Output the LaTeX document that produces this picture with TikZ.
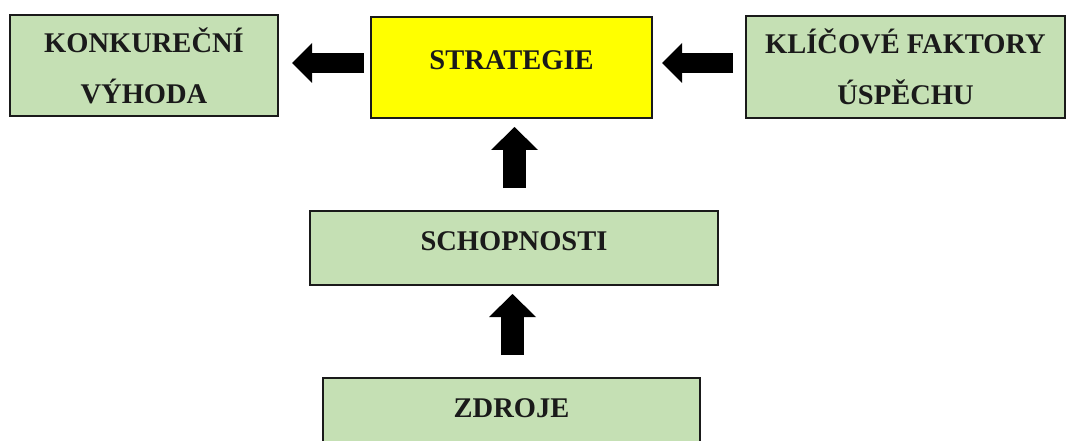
\documentclass[tikz,border=0pt]{standalone}
\usepackage{fontspec}
\setmainfont{Liberation Serif}
\usetikzlibrary{arrows.meta}
\definecolor{boxgreen}{HTML}{C5E0B4}
\definecolor{boxyellow}{HTML}{FFFF00}
\definecolor{edge}{HTML}{1A1A1A}
\begin{document}
\begin{tikzpicture}[x=1pt,y=-1pt,
  box/.style={draw=edge, line width=2pt, inner sep=0pt, font=\fontsize{28.5}{51}\selectfont\bfseries, text=edge, align=center},
  onerow/.style={text height=9pt, text depth=5pt},
  hblk/.style={draw=black, line width=20pt, -{Triangle[width=40pt, length=20pt, line width=0pt]}},
  vblk/.style={draw=black, line width=23pt, -{Triangle[width=47pt, length=23pt, line width=0pt]}},
]
\useasboundingbox (0,0) rectangle (1068,441);
\node[box, fill=boxgreen, minimum width=268pt, minimum height=101pt] (konk) at (144,65.5) {KONKUREČNÍ\\VÝHODA};
\node[box, onerow, fill=boxyellow, minimum width=281pt, minimum height=101pt] (strat) at (511.5,67.5) {STRATEGIE};
\node[box, fill=boxgreen, minimum width=319pt, minimum height=102pt] (kfu) at (905.5,67) {KLÍČOVÉ FAKTORY\\ÚSPĚCHU};
\node[box, onerow, fill=boxgreen, minimum width=408pt, minimum height=74pt] (schop) at (514,248) {SCHOPNOSTI};
\node[box, onerow, fill=boxgreen, minimum width=377pt, minimum height=74pt] (zdroje) at (511.5,415) {ZDROJE};
\draw[hblk] ([xshift=-6pt,yshift=4.5pt]strat.west) -- ([xshift=13pt,yshift=4.5pt]strat.west -| konk.east);
\draw[hblk] ([xshift=-12pt,yshift=4pt]kfu.west) -- ([xshift=9pt,yshift=4pt]kfu.west -| strat.east);
\draw[vblk] ([xshift=0.5pt,yshift=22pt]schop.north) -- ([xshift=0.5pt,yshift=-8pt]schop.north |- strat.south);
\draw[vblk] ([xshift=1pt,yshift=22pt]zdroje.north) -- ([xshift=1pt,yshift=-8pt]zdroje.north |- schop.south);
\end{tikzpicture}
\end{document}
